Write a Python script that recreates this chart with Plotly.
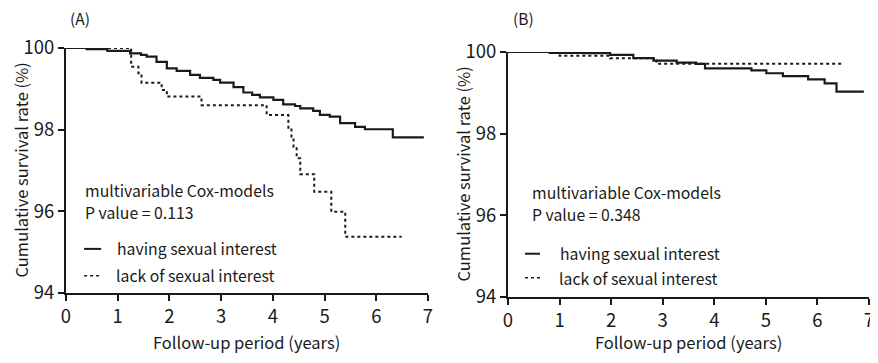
import plotly.graph_objects as go

# Panel A: Kaplan-Meier style step data
a_have_t = [0, 0.4, 0.8, 1.24, 1.45, 1.56, 1.75, 1.95, 2.14, 2.40, 2.59, 2.85, 2.98, 3.24, 3.43, 3.60, 3.75,
            4.01, 4.20, 4.43, 4.53, 4.78, 4.91, 5.10, 5.30, 5.59, 5.78, 6.32, 6.92]
a_have_v = [100, 99.97, 99.93, 99.87, 99.83, 99.79, 99.66, 99.50, 99.44, 99.34, 99.27, 99.22, 99.15, 99.04,
            98.91, 98.85, 98.79, 98.73, 98.62, 98.58, 98.52, 98.46, 98.36, 98.32, 98.16, 98.07, 98.01, 97.81, 97.81]
a_lack_t = [0, 1.26, 1.40, 1.46, 1.85, 1.95, 2.62, 3.88, 4.30, 4.36, 4.40, 4.46, 4.53, 4.80, 5.13, 5.40, 6.49]
a_lack_v = [100, 99.54, 99.38, 99.15, 98.97, 98.81, 98.60, 98.36, 98.05, 97.83, 97.58, 97.30, 96.91, 96.48,
            95.99, 95.38, 95.38]

# Panel B
b_have_t = [0, 0.81, 1.46, 1.98, 2.43, 2.82, 3.27, 3.65, 3.82, 4.72, 5.01, 5.33, 5.82, 6.14, 6.37, 6.90]
b_have_v = [100, 99.98, 99.97, 99.93, 99.85, 99.79, 99.74, 99.71, 99.60, 99.55, 99.48, 99.41, 99.33, 99.23,
            99.03, 99.03]
b_lack_t = [0, 1.0, 1.98, 2.88, 6.47]
b_lack_v = [100, 99.91, 99.85, 99.71, 99.71]

x_ticks = [0, 1, 2, 3, 4, 5, 6, 7]
y_ticks = [94, 96, 98, 100]
panel_labels = ["(A)", "(B)"]
model_label = "multivariable Cox-models"
p_values = ["P value = 0.113", "P value = 0.348"]
legend_names = ["having sexual interest", "lack of sexual interest"]

FONT = "Noto Sans CJK JP"
INK = "#1a1a1a"

fig = go.Figure()
line_solid = dict(color=INK, width=2.2, shape="hv")
line_dot = dict(color=INK, width=2, shape="hv", dash="dot")

fig.add_trace(go.Scatter(x=a_have_t, y=a_have_v, mode="lines", line=line_solid, xaxis="x", yaxis="y",
                         name=legend_names[0], showlegend=False))
fig.add_trace(go.Scatter(x=a_lack_t, y=a_lack_v, mode="lines", line=line_dot, xaxis="x", yaxis="y",
                         name=legend_names[1], showlegend=False))
fig.add_trace(go.Scatter(x=b_have_t, y=b_have_v, mode="lines", line=line_solid, xaxis="x2", yaxis="y2",
                         name=legend_names[0], showlegend=False))
fig.add_trace(go.Scatter(x=b_lack_t, y=b_lack_v, mode="lines", line=line_dot, xaxis="x2", yaxis="y2",
                         name=legend_names[1], showlegend=False))

# page body has an 8px margin: figure pixel = target pixel - OFF
OFF = 8
W, H = 878 - OFF, 363 - OFF

axis_common = dict(showgrid=False, zeroline=False, showline=True, linecolor=INK, linewidth=2,
                   ticks="outside", ticklen=6, tickwidth=2, tickcolor=INK, automargin=False,
                   ticklabeloverflow="allow",
                   tickfont=dict(family=FONT, size=18.5, color=INK))

# target pixel positions of plot areas
axA = dict(x0=66, x1=428, ytop=48, ybot=293)
axB = dict(x0=508, x1=869, ytop=52, ybot=297)

def px(x):
    return (x - OFF) / W

def py(y):
    return 1 - (y - OFF) / H

def dom_x(a):
    return [px(a["x0"]), px(a["x1"])]

def dom_y(a):
    return [py(a["ybot"]), py(a["ytop"])]

fig.update_layout(
    width=W, height=H, margin=dict(l=0, r=0, t=0, b=0, autoexpand=False),
    paper_bgcolor="white", plot_bgcolor="white",
    xaxis=dict(domain=dom_x(axA), range=[0, 7], tickvals=x_ticks, anchor="y", **axis_common),
    yaxis=dict(domain=dom_y(axA), range=[94, 100], tickvals=y_ticks, anchor="x", **axis_common),
    xaxis2=dict(domain=dom_x(axB), range=[0, 7], tickvals=x_ticks, anchor="y2", **axis_common),
    yaxis2=dict(domain=dom_y(axB), range=[94, 100], tickvals=y_ticks, anchor="x2", **axis_common),
)

ann = []
txtfont = dict(family=FONT, size=16.5, color=INK)
label_x = [80, 523]
for i, a in enumerate([axA, axB]):
    ann.append(dict(text=panel_labels[i], x=px(label_x[i]), y=py(18), xref="paper", yref="paper",
                    xanchor="center", yanchor="middle", showarrow=False, borderpad=0,
                    font=dict(family=FONT, size=15.5, color=INK)))
    ann.append(dict(text="Follow-up period (years)", x=px((a["x0"] + a["x1"]) / 2), y=py(342),
                    xref="paper", yref="paper", xanchor="center", yanchor="middle", showarrow=False,
                    font=txtfont))
    ann.append(dict(text="Cumulative survival rate (%)", x=px(a["x0"] - 46),
                    y=py((a["ytop"] + a["ybot"]) / 2), xref="paper", yref="paper", textangle=-90,
                    xanchor="center", yanchor="middle", showarrow=False, font=txtfont))

# in-plot text (data coords)
inplot = [
    dict(text=model_label, x=0.35, y=96.50, xref="x", yref="y"),
    dict(text=p_values[0], x=0.35, y=95.96, xref="x", yref="y"),
    dict(text=legend_names[0], x=0.97, y=95.08, xref="x", yref="y"),
    dict(text=legend_names[1], x=0.95, y=94.42, xref="x", yref="y"),
    dict(text=model_label, x=0.44, y=96.57, xref="x2", yref="y2"),
    dict(text=p_values[1], x=0.44, y=96.03, xref="x2", yref="y2"),
    dict(text=legend_names[0], x=0.99, y=95.06, xref="x2", yref="y2"),
    dict(text=legend_names[1], x=0.97, y=94.45, xref="x2", yref="y2"),
]
for a_ in inplot:
    a_.update(xanchor="left", yanchor="middle", align="left", showarrow=False, borderpad=0,
              font=dict(family=FONT, size=15.8, color=INK))
ann += inplot

shapes = [
    dict(type="line", x0=0.35, x1=0.68, y0=95.08, y1=95.08, xref="x", yref="y",
         line=dict(color=INK, width=2)),
    dict(type="line", x0=0.35, x1=0.68, y0=94.42, y1=94.42, xref="x", yref="y",
         line=dict(color=INK, width=1.5, dash="dot")),
    dict(type="line", x0=0.33, x1=0.62, y0=95.06, y1=95.06, xref="x2", yref="y2",
         line=dict(color=INK, width=2)),
    dict(type="line", x0=0.33, x1=0.65, y0=94.47, y1=94.47, xref="x2", yref="y2",
         line=dict(color=INK, width=1.5, dash="dot")),
]
fig.update_layout(annotations=ann, shapes=shapes)

fig.write_html("out.html")
